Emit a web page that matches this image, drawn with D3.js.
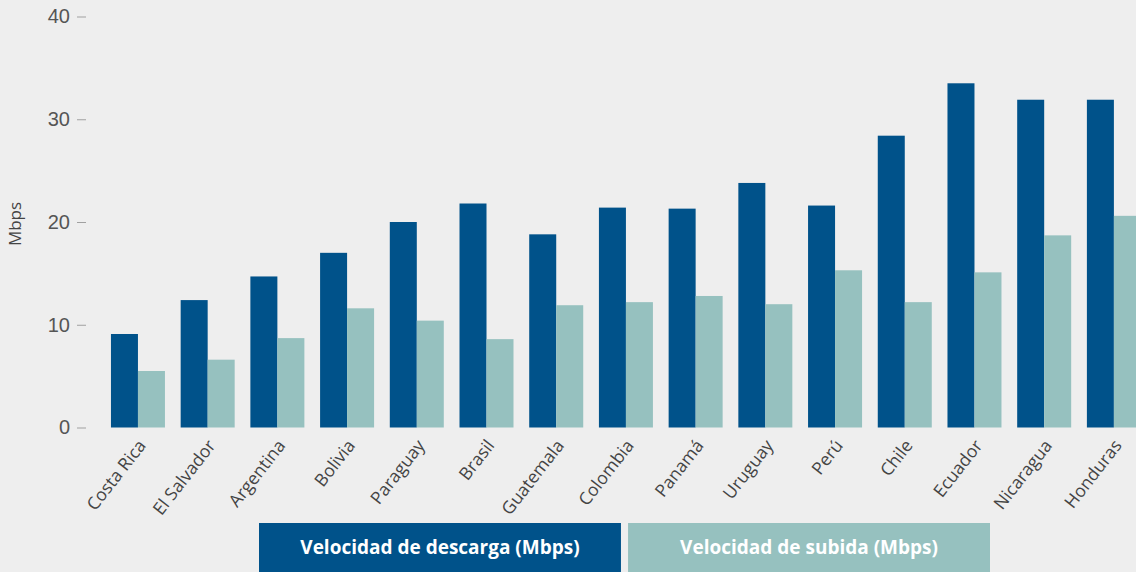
<!DOCTYPE html>
<html>
<head>
<meta charset="utf-8">
<script src="https://cdn.jsdelivr.net/npm/d3@7"></script>
<style>
  html, body { margin: 0; padding: 0; background: #eeeeee; }
  svg { display: block; }
</style>
</head>
<body>
<script>
const countries = ['Costa Rica', 'El Salvador', 'Argentina', 'Bolivia', 'Paraguay', 'Brasil', 'Guatemala',
  'Colombia', 'Panamá', 'Uruguay', 'Perú', 'Chile', 'Ecuador', 'Nicaragua', 'Honduras']
const descarga = [9.1, 12.4, 14.7, 17.0, 20.0, 21.8, 18.8, 21.4, 21.3, 23.8, 21.6, 28.4, 33.5, 31.9, 31.9]
const subida = [5.5, 6.6, 8.7, 11.6, 10.4, 8.6, 11.9, 12.2, 12.8, 12.0, 15.3, 12.2, 15.1, 18.7, 20.6]
const yTicks = [0, 10, 20, 30, 40]
const seriesNames = ['Velocidad de descarga (Mbps)', 'Velocidad de subida (Mbps)']

const w = 1136
const h = 572
const darkBlue = '#00528a'
const lightTeal = '#96c1bf'

const svg = d3.select('body')
  .append('svg')
  .attr('width', w)
  .attr('height', h)
  .style('font-family', '"Open Sans", sans-serif')

// one band per country, bars split inside it
const x = d3.scaleBand()
  .domain(countries)
  .range([103.1, 103.1 + 15 * 69.71])
  .paddingInner(0.2254)
  .paddingOuter(0.1127)

const inner = d3.scaleBand()
  .domain(['d', 's'])
  .range([0, x.bandwidth()])

const y = d3.scaleLinear()
  .domain([0, 40])
  .range([427.5, 16.5])

// y axis
const yAxis = d3.axisLeft(y)
  .tickValues(yTicks)
  .tickSize(9)
  .tickPadding(7)

const gy = svg.append('g')
  .attr('transform', 'translate(86, 0)')
  .call(yAxis)
gy.select('.domain').remove()
gy.selectAll('.tick line').attr('stroke', '#a0a0a0')
gy.selectAll('.tick text')
  .attr('fill', '#555')
  .style('font-size', '20px')
  .style('font-weight', 300)

svg.append('text')
  .attr('transform', 'translate(21, 224) rotate(-90)')
  .attr('text-anchor', 'middle')
  .attr('fill', '#444')
  .style('font-size', '17px')
  .text('Mbps')

// bars
const groups = svg.append('g')
  .selectAll('g')
  .data(countries)
  .join('g')
  .attr('transform', d => `translate(${x(d)}, 0)`)

groups.append('rect')
  .attr('x', inner('d'))
  .attr('width', inner.bandwidth())
  .attr('y', (d, i) => y(descarga[i]))
  .attr('height', (d, i) => y(0) - y(descarga[i]))
  .attr('fill', darkBlue)

groups.append('rect')
  .attr('x', inner('s'))
  .attr('width', inner.bandwidth())
  .attr('y', (d, i) => y(subida[i]))
  .attr('height', (d, i) => y(0) - y(subida[i]))
  .attr('fill', lightTeal)

// x labels
svg.append('g')
  .selectAll('text')
  .data(countries)
  .join('text')
  .attr('transform', d => `translate(${x(d) + x.bandwidth() / 2 + 4}, 442) rotate(-52)`)
  .attr('text-anchor', 'end')
  .attr('dy', '0.35em')
  .attr('fill', '#444')
  .style('font-size', '17.5px')
  .text(d => d)

// legend boxes
const legend = d3.scaleBand()
  .domain(seriesNames)
  .range([259, 990])
  .paddingInner(0.0192)

const lg = svg.append('g')
  .selectAll('g')
  .data(seriesNames)
  .join('g')
  .attr('transform', d => `translate(${legend(d)}, 523)`)

lg.append('rect')
  .attr('width', legend.bandwidth())
  .attr('height', 50)
  .attr('fill', (d, i) => i === 0 ? darkBlue : lightTeal)

lg.append('text')
  .attr('x', legend.bandwidth() / 2)
  .attr('y', 31)
  .attr('text-anchor', 'middle')
  .attr('fill', '#fff')
  .style('font-size', '19px')
  .style('font-weight', 700)
  .text(d => d)
</script>
</body>
</html>
